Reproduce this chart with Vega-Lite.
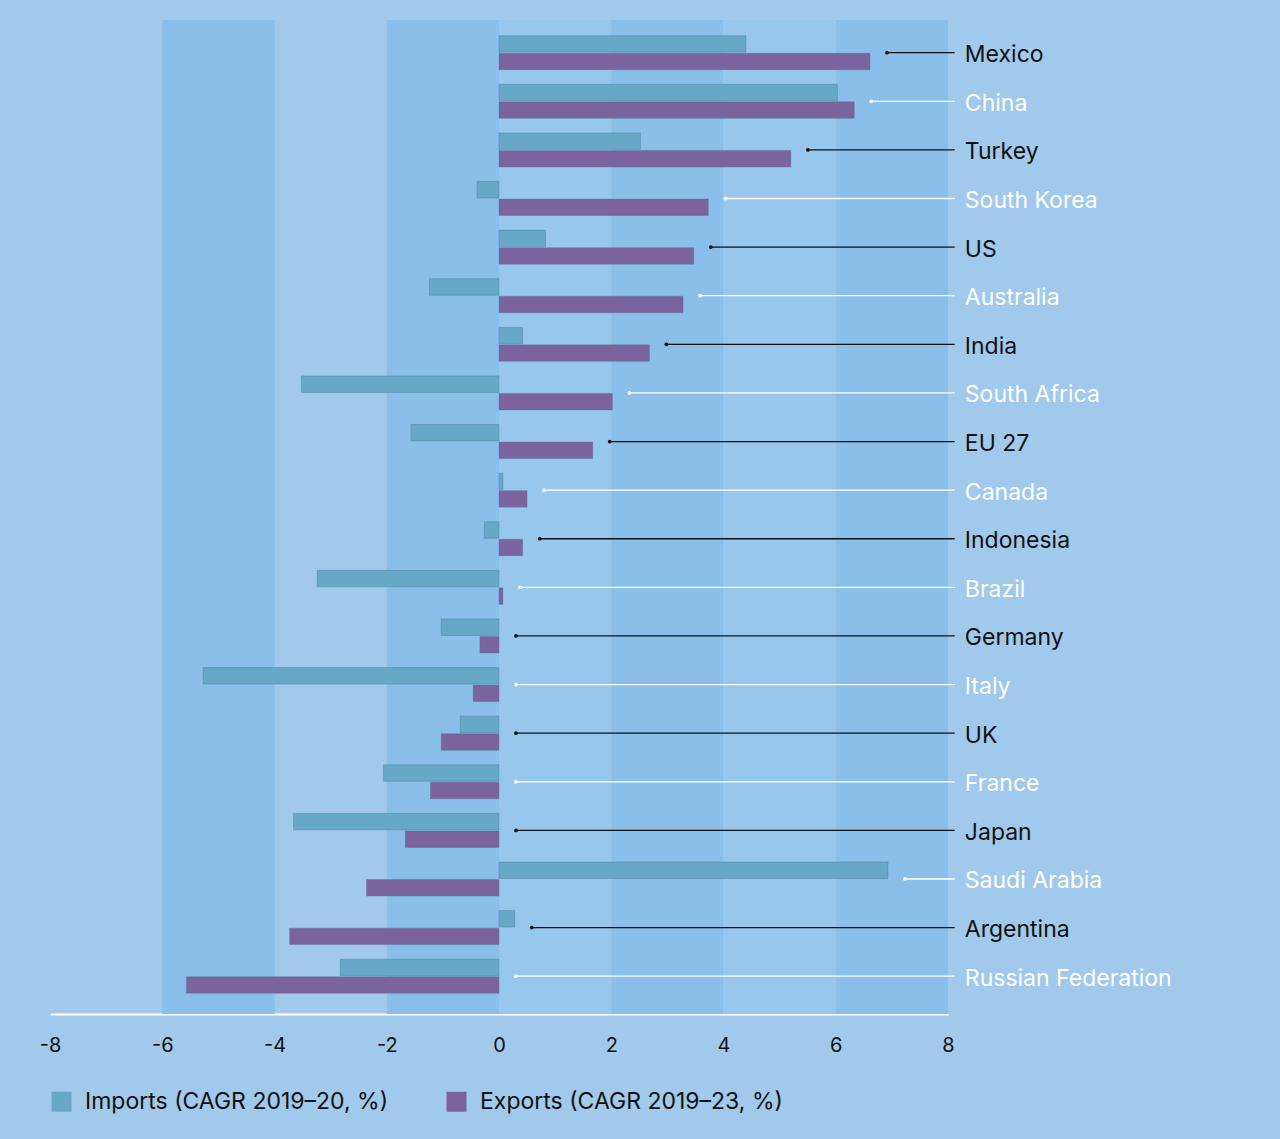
{
  "$schema": "https://vega.github.io/schema/vega-lite/v6.json",
  "width": 898,
  "height": 994,
  "autosize": "none",
  "padding": {"left": 50, "top": 20, "right": 332, "bottom": 125},
  "background": "#a1c9ec",
  "config": {
    "view": {"stroke": null},
    "font": "Inter"
  },
  "datasets": {
    "trade": [
      {"country": "Mexico", "imports": 4.40, "exports": 6.61},
      {"country": "China", "imports": 6.03, "exports": 6.33},
      {"country": "Turkey", "imports": 2.52, "exports": 5.20},
      {"country": "South Korea", "imports": -0.39, "exports": 3.73},
      {"country": "US", "imports": 0.83, "exports": 3.47},
      {"country": "Australia", "imports": -1.24, "exports": 3.28},
      {"country": "India", "imports": 0.42, "exports": 2.68},
      {"country": "South Africa", "imports": -3.52, "exports": 2.02},
      {"country": "EU 27", "imports": -1.57, "exports": 1.67},
      {"country": "Canada", "imports": 0.07, "exports": 0.50},
      {"country": "Indonesia", "imports": -0.26, "exports": 0.42},
      {"country": "Brazil", "imports": -3.24, "exports": 0.07},
      {"country": "Germany", "imports": -1.03, "exports": -0.34},
      {"country": "Italy", "imports": -5.27, "exports": -0.46},
      {"country": "UK", "imports": -0.69, "exports": -1.03},
      {"country": "France", "imports": -2.06, "exports": -1.22},
      {"country": "Japan", "imports": -3.66, "exports": -1.67},
      {"country": "Saudi Arabia", "imports": 6.93, "exports": -2.36},
      {"country": "Argentina", "imports": 0.28, "exports": -3.73},
      {"country": "Russian Federation", "imports": -2.83, "exports": -5.57}
    ],
    "darkBands": [
      {"from": -6, "to": -4},
      {"from": -2, "to": 0},
      {"from": 2, "to": 4},
      {"from": 6, "to": 8}
    ],
    "lightBands": [
      {"from": 0, "to": 2},
      {"from": 4, "to": 6}
    ]
  },
  "layer": [
    {
      "data": {"name": "darkBands"},
      "mark": {"type": "rect", "color": "#89bfe8"},
      "encoding": {
        "x": {"field": "from", "type": "quantitative"},
        "x2": {"field": "to"}
      }
    },
    {
      "data": {"name": "lightBands"},
      "mark": {"type": "rect", "color": "#97c7ed"},
      "encoding": {
        "x": {"field": "from", "type": "quantitative"},
        "x2": {"field": "to"}
      }
    },
    {
      "data": {"name": "trade"},
      "transform": [{"fold": ["imports", "exports"], "as": ["series", "value"]}],
      "mark": {"type": "bar", "stroke": "#4b6f8f", "strokeOpacity": 0.35, "strokeWidth": 1},
      "encoding": {
        "y": {
          "field": "country",
          "type": "nominal",
          "sort": null,
          "axis": null,
          "scale": {"paddingInner": 0.3, "paddingOuter": 0.375, "align": 0.43}
        },
        "yOffset": {
          "field": "series",
          "sort": ["imports", "exports"],
          "scale": {"paddingInner": 0.06}
        },
        "x": {
          "field": "value",
          "type": "quantitative",
          "scale": {"domain": [-8, 8], "nice": false, "zero": false},
          "axis": {
            "title": null,
            "values": [-8, -6, -4, -2, 0, 2, 4, 6, 8],
            "labelExpr": "'' + datum.value",
            "labelFlush": false,
            "labelOverlap": false,
            "domainColor": "#ffffff",
            "domainWidth": 2,
            "ticks": false,
            "grid": false,
            "labelFontSize": 20,
            "labelColor": "#111111",
            "labelPadding": 21
          }
        },
        "color": {
          "field": "series",
          "type": "nominal",
          "scale": {"domain": ["imports", "exports"], "range": ["#66a8c6", "#7b649d"]},
          "legend": {
            "title": null,
            "orient": "none",
            "direction": "horizontal",
            "legendX": 0,
            "legendY": 1070,
            "symbolType": "square",
            "symbolSize": 400,
            "symbolStrokeWidth": 0,
            "symbolOpacity": 1,
            "labelFontSize": 23,
            "labelColor": "#111111",
            "labelOffset": 12,
            "columnPadding": 56,
            "labelLimit": 400,
            "labelExpr": "datum.label == 'imports' ? 'Imports (CAGR 2019–20, %)' : 'Exports (CAGR 2019–23, %)'"
          }
        }
      }
    },
    {
      "mark": {"type": "rule", "color": "#ffffff", "strokeWidth": 2},
      "encoding": {"x": {"datum": 0}}
    },
    {
      "data": {"name": "trade"},
      "transform": [{"calculate": "max(datum.imports, datum.exports, 0)", "as": "lead"}],
      "mark": {"type": "rule", "strokeWidth": 1.3, "xOffset": 17},
      "encoding": {
        "y": {"field": "country", "type": "nominal", "sort": null},
        "x": {"field": "lead", "type": "quantitative"},
        "x2": {"datum": 8.12},
        "stroke": {
          "field": "country",
          "type": "nominal",
          "legend": null,
          "scale": {
            "domain": ["Mexico", "China", "Turkey", "South Korea", "US", "Australia", "India", "South Africa", "EU 27", "Canada", "Indonesia", "Brazil", "Germany", "Italy", "UK", "France", "Japan", "Saudi Arabia", "Argentina", "Russian Federation"],
            "range": ["#111111", "#ffffff", "#111111", "#ffffff", "#111111", "#ffffff", "#111111", "#ffffff", "#111111", "#ffffff", "#111111", "#ffffff", "#111111", "#ffffff", "#111111", "#ffffff", "#111111", "#ffffff", "#111111", "#ffffff"]
          }
        }
      }
    },
    {
      "data": {"name": "trade"},
      "transform": [{"calculate": "max(datum.imports, datum.exports, 0)", "as": "lead"}],
      "mark": {"type": "point", "filled": true, "size": 14, "opacity": 1, "xOffset": 17},
      "encoding": {
        "y": {"field": "country", "type": "nominal", "sort": null},
        "x": {"field": "lead", "type": "quantitative"},
        "fill": {
          "field": "country",
          "type": "nominal",
          "legend": null,
          "scale": {
            "domain": ["Mexico", "China", "Turkey", "South Korea", "US", "Australia", "India", "South Africa", "EU 27", "Canada", "Indonesia", "Brazil", "Germany", "Italy", "UK", "France", "Japan", "Saudi Arabia", "Argentina", "Russian Federation"],
            "range": ["#111111", "#ffffff", "#111111", "#ffffff", "#111111", "#ffffff", "#111111", "#ffffff", "#111111", "#ffffff", "#111111", "#ffffff", "#111111", "#ffffff", "#111111", "#ffffff", "#111111", "#ffffff", "#111111", "#ffffff"]
          }
        }
      }
    },
    {
      "data": {"name": "trade"},
      "mark": {"type": "text", "align": "left", "baseline": "middle", "fontSize": 23, "dy": 2.5},
      "encoding": {
        "y": {"field": "country", "type": "nominal", "sort": null},
        "x": {"datum": 8.3},
        "text": {"field": "country"},
        "fill": {"field": "country", "type": "nominal", "legend": null}
      }
    }
  ]
}
